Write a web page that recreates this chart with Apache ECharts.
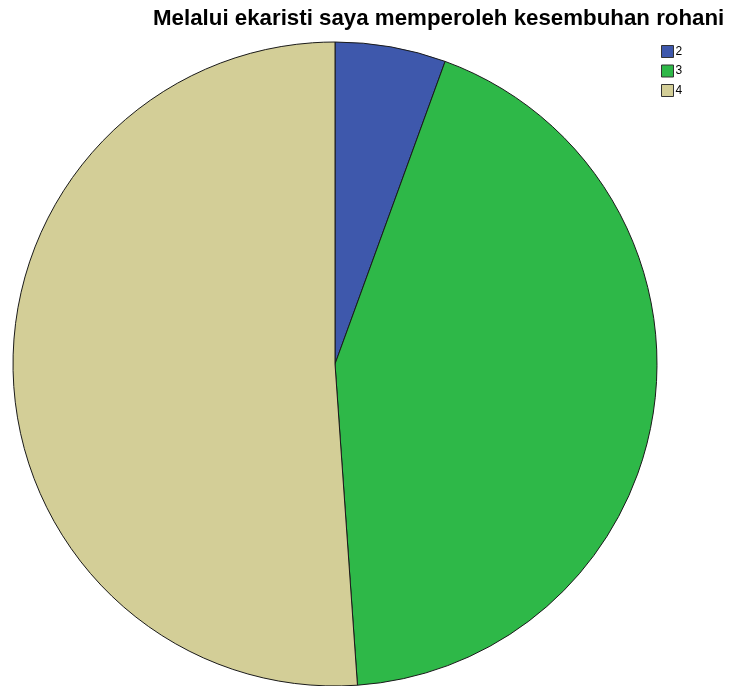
<!DOCTYPE html>
<html>
<head>
<meta charset="utf-8">
<script src="https://cdn.jsdelivr.net/npm/echarts@6/dist/echarts.min.js"></script>
<style>
html,body{margin:0;padding:0;background:#fff;}
#chart{width:729px;height:686px;}
</style>
</head>
<body>
<div id="chart"></div>
<script>
// Response categories and counts
const categories = ['2', '3', '4'];
const counts = [5, 39, 46];
const colors = ['#3e58ac', '#2eb848', '#d3ce97'];

const chart = echarts.init(document.getElementById('chart'), null, {renderer: 'canvas'});
chart.setOption({
  animation: false,
  backgroundColor: '#ffffff',
  title: {
    text: 'Melalui ekaristi saya memperoleh kesembuhan rohani',
    left: 153,
    top: 8,
    padding: 0,
    textStyle: {fontFamily: 'Liberation Sans, Arial, sans-serif', fontSize: 22.3, fontWeight: 'bold', color: '#000'}
  },
  legend: {
    orient: 'vertical',
    left: 661,
    top: 45,
    padding: 0,
    itemWidth: 12,
    itemHeight: 12,
    itemGap: 6.5,
    icon: 'rect',
    itemStyle: {borderColor: '#333', borderWidth: 1},
    textStyle: {fontFamily: 'Liberation Sans, Arial, sans-serif', fontSize: 12, color: '#000', padding: [0, 0, 0, -3]},
    data: categories
  },
  color: colors,
  series: [{
    type: 'pie',
    center: [335, 364],
    radius: [0, 322],
    startAngle: 90,
    clockwise: true,
    label: {show: false},
    labelLine: {show: false},
    emphasis: {disabled: true},
    itemStyle: {borderColor: '#1a1a1a', borderWidth: 1},
    data: categories.map((c, i) => ({name: c, value: counts[i]}))
  }]
});
</script>
</body>
</html>
